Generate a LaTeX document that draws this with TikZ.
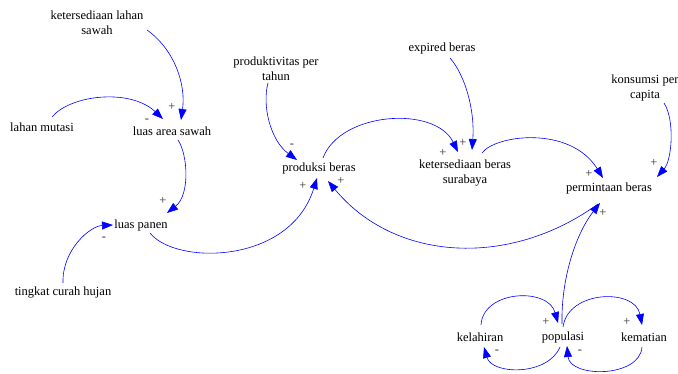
\documentclass[tikz,border=0pt]{standalone}
\usepackage{fontspec}
\setmainfont{Liberation Serif}
\usetikzlibrary{arrows.meta,calc}
\begin{document}
\begin{tikzpicture}[x=1pt,y=-1pt,
  var/.style={font=\fontsize{12.5}{15}\selectfont, align=center, inner sep=0pt},
  lnk/.style={draw=blue, line width=0.6pt, -{Triangle[length=11pt,width=8pt]}},
  pol/.style={font=\fontsize{12.5}{12.5}\selectfont, text=black!80, inner sep=0pt}]
\useasboundingbox (0,0) rectangle (678,374);
\fill[white] (0,0) rectangle (678,374);

% variables
\node[var] (kls) at (97,23) {ketersediaan lahan\\sawah};
\node[var] (lm) at (42,127) {lahan mutasi};
\node[var] (las) at (172,131) {luas area sawah};
\node[var] (lp) at (141,225) {luas panen};
\node[var] (tch) at (63,293) {tingkat curah hujan};
\node[var] (pt) at (276,69) {produktivitas per\\tahun};
\node[var] (pb) at (319,168) {produksi beras};
\node[var] (eb) at (442,48) {expired beras};
\node[var] (kbs) at (465,173) {ketersediaan beras\\surabaya};
\node[var] (kpc) at (645,88) {konsumsi per\\capita};
\node[var] (pmb) at (609,188) {permintaan beras};
\node[var] (kel) at (480,337) {kelahiran};
\node[var] (pop) at (563,337) {populasi};
\node[var] (kem) at (644,337) {kematian};

% links
\draw[lnk] ($(kls)+(50,7)$) .. controls +(28,20) and +(5,-35) .. ($(las)+(9,-11)$);
\draw[lnk] ($(lm)+(10,-10)$) .. controls +(18,-22) and +(-33,-31) .. ($(las)+(-9,-12)$);
\draw[lnk] ($(las)+(6,9)$) .. controls +(10,15) and +(23,-18) .. ($(lp)+(26,-12)$);
\draw[lnk] ($(tch)+(0,-10)$) .. controls +(-1,-33) and +(-23,1) .. ($(lp)+(-28,0)$);
\draw[lnk] ($(lp)+(9,8)$) .. controls +(25,32) and +(-27,87) .. ($(pb)+(-2,10)$);
\draw[lnk] ($(pt)+(-8,14)$) .. controls +(-6,22) and +(-27,-20) .. ($(pb)+(-22,-8)$);
\draw[lnk] ($(pb)+(4,-10)$) .. controls +(17,-46) and +(-23,-47) .. ($(kbs)+(-7,-21)$);
\draw[lnk] ($(eb)+(8,10)$) .. controls +(15,17) and +(3,-40) .. ($(kbs)+(7,-23)$);
\draw[lnk] ($(kbs)+(17,-20)$) .. controls +(13,-18) and +(-33,-53) .. ($(pmb)+(-6,-10)$);
\draw[lnk] ($(kpc)+(19,15)$) .. controls +(11,17) and +(15,-17) .. ($(pmb)+(48,-11)$);
\draw[lnk] ($(pmb)+(-11,16)$) .. controls +(-88,64) and +(67,81) .. ($(pb)+(9,13)$);
\draw[lnk] ($(pop)+(-1,-13)$) .. controls +(-1,-44) and +(-25,32) .. ($(pmb)+(-9,15)$);
\draw[lnk] ($(kel)+(1,-12)$) .. controls +(2,-35) and +(-10,-36) .. ($(pop)+(-5,-14)$);
\draw[lnk] ($(pop)+(-3,10)$) .. controls +(-12,29) and +(8,28) .. ($(kel)+(4,10)$);
\draw[lnk] ($(pop)+(0,-10)$) .. controls +(5,-37) and +(-7,-37) .. ($(kem)+(-2,-12)$);
\draw[lnk] ($(kem)+(-2,10)$) .. controls +(-2,31) and +(3,32) .. ($(pop)+(4,9)$);

% polarities
\node[pol] (p1) at (172,107) {+};
\node[pol] (p2) at (147,121) {-};
\node[pol] (p3) at (163,201) {+};
\node[pol] (p4) at (104,239) {-};
\node[pol] (p5) at (303,186) {+};
\node[pol] (p6) at (292,146) {-};
\node[pol] (p7) at (443,153) {+};
\node[pol] (p8) at (463,143) {+};
\node[pol] (p9) at (589,174) {+};
\node[pol] (p10) at (654,163) {+};
\node[pol] (p11) at (341,181) {+};
\node[pol] (p12) at (603,213) {+};
\node[pol] (p13) at (546,322) {+};
\node[pol] (p14) at (497,352) {-};
\node[pol] (p15) at (627,322) {+};
\node[pol] (p16) at (580,352) {-};
\end{tikzpicture}
\end{document}
